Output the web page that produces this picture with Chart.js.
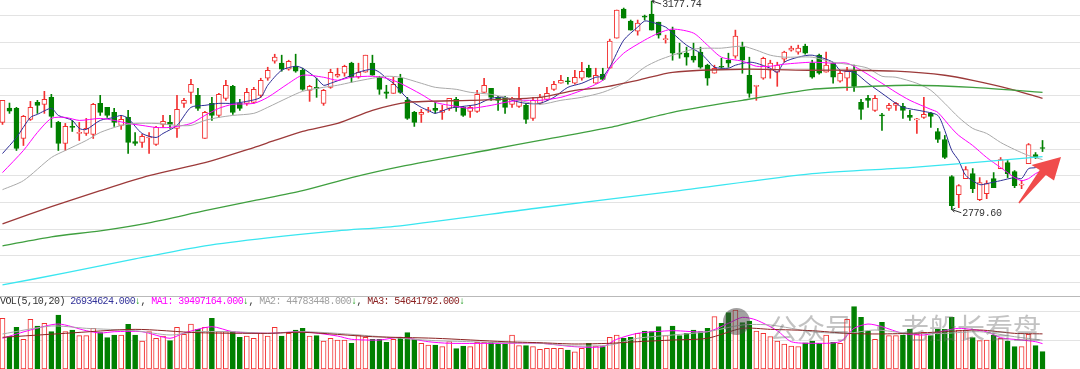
<!DOCTYPE html>
<html>
<head>
<meta charset="utf-8">
<script src="https://cdn.jsdelivr.net/npm/chart.js@4"></script>
<style>
  body { margin: 0; background: #fff; }
  #wrap { position: relative; width: 1080px; height: 369px; overflow: hidden; background: #fff; }
  canvas { position: absolute; left: 0; }
  #price { top: 0; }
  #vol { top: 296px; }
  #sep { position: absolute; left: 0; top: 296px; width: 1080px; height: 1px; background: #b9b9b9; }
  #volHead { position: absolute; left: 0; top: 296px; height: 12px; line-height: 12px; font: 10px "Liberation Mono", monospace; letter-spacing: -0.6px; white-space: pre; color: #333; }
  #logo { position: absolute; left: 723px; top: 308px; width: 27px; height: 27px; border-radius: 50%; background: rgba(70,70,70,0.5); }
  .mark { position: absolute; top: 307px; line-height: 28px; font: 28px "Noto Sans CJK SC", sans-serif; color: rgba(110,110,110,0.42); white-space: nowrap; }
</style>
</head>
<body>
<div id="wrap">
  <canvas id="price" width="1080" height="291"></canvas>
  <canvas id="vol" width="1080" height="73"></canvas>
  <div id="sep"></div>
  <div id="volHead"></div>
  <div id="logo"></div>
  <div class="mark" style="left:769px">公众号</div>
  <div class="mark" style="left:866px">·</div>
  <div class="mark" style="left:901px">老船长看盘</div>
</div>
<script>
// daily K-line, 150 sessions (prices)
const opens = [
  2946.2, 2973.6, 2973.0, 2915.5, 2951.9, 2984.4, 2980.6, 2994.0, 2946.2, 2906.0,
  2938.5, 2925.1, 2925.1, 2923.2, 2982.5, 2974.9, 2965.3, 2940.4, 2955.7, 2909.8,
  2907.9, 2916.5, 2904.0, 2942.3, 2946.2, 2934.7, 2982.5, 3003.6, 2997.8, 2915.5,
  2982.5, 2959.5, 2992.1, 3015.0, 2982.5, 2982.5, 2984.4, 2997.8, 3030.4, 3062.9,
  3059.1, 3047.6, 3053.3, 3045.7, 3007.4, 3013.1, 2982.5, 3013.1, 3034.2, 3040.0,
  3059.1, 3032.3, 3041.8, 3059.1, 3032.3, 3004.5, 3001.6, 3030.4, 2988.3, 2965.3,
  2961.5, 2968.2, 2973.0, 2965.3, 2973.0, 2990.2, 2974.9, 2967.2, 2967.2, 3003.6,
  3011.2, 2994.0, 2994.0, 2980.6, 2976.8, 2978.7, 2953.8, 2982.5, 2990.2, 3009.3,
  3020.8, 3025.6, 3020.8, 3030.4, 3049.5, 3020.8, 3038.0, 3049.5, 3106.9, 3162.4,
  3139.5, 3120.3, 3149.0, 3152.9, 3137.5, 3104.1, 3122.2, 3078.2, 3078.2, 3072.5,
  3080.1, 3055.3, 3040.0, 3053.3, 3064.8, 3072.5, 3089.7, 3036.1, 3015.0, 3030.4,
  3045.7, 3041.8, 3066.7, 3084.0, 3080.1, 3091.6, 3059.1, 3074.4, 3041.8, 3059.1,
  3024.6, 3030.4, 3045.7, 2984.4, 2992.1, 2969.1, 2960.5, 2973.0, 2978.7, 2976.8,
  2959.5, 2950.9, 2955.7, 2963.4, 2928.9, 2913.6, 2842.8, 2808.3, 2839.0, 2848.5,
  2798.8, 2810.3, 2839.0, 2858.1, 2869.6, 2852.4, 2826.5, 2867.7, 2884.9, 2898.3
];
const closes = [
  2988.3, 2967.8, 2896.4, 2957.6, 2974.9, 2978.7, 2990.2, 2957.6, 2906.0, 2938.5,
  2936.6, 2926.0, 2934.7, 2980.6, 2965.3, 2959.5, 2946.2, 2951.9, 2907.9, 2906.0,
  2919.4, 2917.4, 2936.6, 2948.1, 2942.3, 2971.0, 2988.3, 3018.9, 2973.0, 2965.3,
  2959.5, 2999.7, 3017.0, 2965.3, 2973.0, 3003.6, 3009.3, 3026.5, 3045.7, 3070.6,
  3047.6, 3062.9, 3043.8, 3009.3, 3015.0, 3011.2, 3007.4, 3041.8, 3038.0, 3053.3,
  3032.3, 3041.8, 3074.4, 3036.1, 3009.3, 3001.6, 3018.9, 3003.6, 2953.8, 2946.2,
  2965.3, 2969.1, 2969.1, 2969.1, 2992.1, 2974.9, 2959.5, 2974.9, 2999.7, 3017.0,
  2994.0, 2988.3, 2974.9, 2992.1, 2990.2, 2951.9, 2988.3, 2994.0, 3001.6, 3018.9,
  3026.5, 3023.7, 3032.3, 3043.8, 3032.3, 3036.1, 3028.4, 3101.2, 3160.5, 3145.2,
  3122.2, 3135.6, 3147.1, 3122.2, 3112.6, 3105.0, 3078.2, 3076.3, 3070.6, 3064.8,
  3051.4, 3030.4, 3049.5, 3051.4, 3059.1, 3110.7, 3064.8, 3001.6, 3017.0, 3068.6,
  3059.1, 3055.3, 3080.1, 3087.8, 3087.8, 3078.2, 3032.3, 3039.9, 3055.3, 3032.3,
  3039.9, 3043.8, 3015.0, 2971.0, 2988.3, 2992.1, 2958.6, 2978.7, 2982.5, 2969.1,
  2955.7, 2951.9, 2961.5, 2957.6, 2913.6, 2879.2, 2787.3, 2825.6, 2856.2, 2819.8,
  2831.3, 2829.4, 2821.7, 2875.3, 2848.5, 2825.6, 2827.5, 2904.0, 2879.2, 2896.4
];
const highs = [
  2988.3, 2983.1, 2974.9, 2959.5, 2986.3, 2988.3, 3005.5, 2999.7, 2948.1, 2944.2,
  2950.0, 2946.2, 2953.8, 2982.5, 2997.8, 2974.9, 2973.0, 2959.5, 2969.1, 2927.0,
  2923.2, 2927.0, 2938.5, 2959.5, 2959.5, 2997.8, 2992.1, 3028.4, 3011.2, 2967.2,
  2994.0, 3001.6, 3026.5, 3017.0, 2990.2, 3011.2, 3013.1, 3030.4, 3051.4, 3076.2,
  3074.4, 3064.8, 3076.3, 3049.5, 3017.0, 3030.4, 3009.3, 3047.6, 3049.5, 3055.3,
  3061.0, 3059.1, 3074.4, 3074.4, 3034.2, 3017.0, 3032.3, 3038.0, 2994.0, 2967.2,
  2971.0, 2974.9, 2984.4, 2978.7, 2992.1, 2994.0, 2976.8, 2978.7, 3007.4, 3030.4,
  3011.2, 2995.9, 2995.9, 2994.0, 3013.1, 2982.5, 2994.0, 2999.7, 3013.1, 3024.6,
  3036.1, 3032.3, 3045.7, 3061.0, 3055.3, 3049.5, 3049.5, 3105.0, 3160.5, 3164.3,
  3141.4, 3141.4, 3150.9, 3177.74, 3137.5, 3112.6, 3128.0, 3097.4, 3089.7, 3097.4,
  3089.7, 3057.2, 3055.3, 3068.6, 3078.2, 3122.2, 3099.3, 3070.6, 3017.0, 3070.6,
  3064.8, 3061.0, 3082.0, 3091.6, 3093.5, 3095.4, 3064.8, 3076.3, 3080.1, 3061.0,
  3045.7, 3051.4, 3055.3, 2990.2, 2997.8, 2997.8, 2963.4, 2982.5, 2984.4, 2982.5,
  2969.1, 2953.8, 2994.0, 2965.3, 2934.7, 2921.3, 2844.7, 2827.5, 2861.9, 2858.1,
  2840.9, 2835.1, 2850.5, 2879.2, 2873.4, 2854.3, 2835.1, 2905.9, 2888.7, 2911.7
];
const lows = [
  2942.3, 2963.4, 2892.6, 2902.1, 2950.0, 2963.4, 2963.4, 2936.6, 2892.6, 2892.6,
  2928.9, 2911.7, 2921.3, 2915.5, 2959.5, 2955.7, 2938.5, 2932.7, 2886.8, 2902.1,
  2898.3, 2886.8, 2902.1, 2936.6, 2934.7, 2917.4, 2974.9, 2982.5, 2969.1, 2915.5,
  2950.0, 2955.7, 2988.3, 2961.4, 2969.1, 2978.7, 2982.5, 2994.0, 3026.5, 3059.1,
  3043.8, 3045.7, 3041.8, 3007.4, 2986.3, 2994.0, 2978.7, 3011.2, 3032.3, 3034.2,
  3022.7, 3030.4, 3041.8, 3036.1, 2999.7, 2992.1, 3001.6, 3001.6, 2951.9, 2938.5,
  2946.2, 2965.3, 2963.4, 2951.9, 2969.1, 2967.2, 2957.6, 2955.7, 2965.3, 3003.6,
  2988.3, 2969.1, 2963.4, 2974.9, 2974.9, 2944.2, 2950.0, 2980.6, 2988.3, 3007.4,
  3020.8, 3018.9, 3018.9, 3026.5, 3032.3, 3020.8, 3026.5, 3049.5, 3106.9, 3145.2,
  3122.2, 3112.6, 3141.4, 3122.2, 3106.9, 3097.4, 3064.8, 3068.6, 3055.3, 3061.0,
  3049.5, 3017.0, 3040.0, 3049.5, 3051.4, 3068.6, 3040.0, 2994.0, 2988.3, 3028.4,
  3030.4, 3015.0, 3061.0, 3082.0, 3076.3, 3076.3, 3030.4, 3038.0, 3041.8, 3020.8,
  3022.7, 3007.4, 3005.5, 2951.9, 2974.9, 2967.2, 2930.8, 2969.1, 2969.1, 2953.8,
  2950.0, 2925.1, 2953.8, 2936.6, 2907.9, 2877.2, 2779.6, 2783.5, 2839.0, 2812.2,
  2796.9, 2800.7, 2821.7, 2858.1, 2840.9, 2821.7, 2819.8, 2867.7, 2877.2, 2890.6
];
// volume in millions of shares
const volumes = [
  78.8, 50.3, 64.8, 46.2, 77.3, 66.9, 71.1, 58.1, 84.0, 58.1,
  60.7, 51.9, 51.9, 63.3, 56.5, 48.8, 52.9, 52.9, 69.5, 52.9,
  43.6, 58.1, 47.7, 51.3, 44.1, 64.8, 53.9, 70.0, 61.7, 64.8,
  78.8, 58.1, 58.1, 58.1, 49.3, 51.3, 47.7, 55.5, 51.3, 64.8,
  51.3, 55.5, 60.7, 63.3, 51.3, 51.9, 43.6, 47.7, 45.1, 45.1,
  40.0, 52.9, 49.3, 46.2, 46.2, 41.5, 46.2, 49.3, 56.5, 46.7,
  40.0, 37.3, 37.3, 34.7, 42.5, 31.6, 35.8, 34.7, 41.5, 41.5,
  41.5, 38.4, 38.4, 52.9, 36.3, 36.3, 34.7, 30.6, 32.2, 32.2,
  32.2, 29.6, 26.9, 32.2, 40.0, 35.8, 34.7, 49.3, 52.9, 47.7,
  49.3, 55.5, 59.1, 58.1, 65.9, 51.9, 66.9, 51.9, 55.5, 60.7,
  58.1, 63.3, 81.4, 71.1, 87.7, 91.8, 72.1, 74.7, 59.1, 55.5,
  50.3, 43.6, 38.9, 35.8, 34.7, 40.9, 43.6, 40.0, 52.9, 41.5,
  40.0, 77.3, 97.0, 80.4, 59.1, 46.2, 72.6, 51.9, 51.9, 52.9,
  62.2, 53.9, 57.1, 51.9, 61.7, 61.7, 80.4, 60.7, 60.7, 48.8,
  44.1, 45.0, 52.9, 47.7, 43.6, 34.7, 34.7, 53.9, 36.3, 26.934624
];

// moving averages: [session index, value]
const ma5 = [[0,2886.8],[2,2917.4],[4,2955.7],[5,2961.5],[7,2973.0],[8,2959.5],[10,2950.0],[11,2934.7],[12,2932.7],[14,2950.0],[16,2955.7],[17,2959.5],[18,2953.8],[20,2925.1],[22,2917.4],[23,2925.1],[25,2940.4],[27,2974.9],[29,2978.7],[31,2982.5],[33,2982.5],[35,2986.3],[37,2994.0],[38,3017.0],[40,3045.7],[42,3053.3],[43,3049.5],[45,3030.4],[46,3017.0],[47,3020.8],[49,3030.4],[51,3041.8],[53,3047.6],[54,3041.8],[55,3030.4],[56,3020.8],[58,2992.1],[60,2974.9],[61,2969.1],[62,2963.4],[64,2973.0],[66,2976.8],[68,2980.6],[70,2992.1],[72,2994.0],[73,2988.3],[75,2982.5],[77,2982.5],[79,2994.0],[81,3013.1],[83,3020.8],[85,3032.3],[86,3034.2],[87,3051.4],[89,3103.1],[91,3128.0],[92,3139.5],[93,3137.5],[95,3128.0],[96,3116.5],[98,3093.5],[100,3078.2],[101,3064.8],[102,3051.4],[104,3049.5],[105,3055.3],[107,3061.0],[108,3059.1],[110,3049.5],[111,3041.8],[112,3061.0],[114,3070.6],[116,3074.4],[119,3061.0],[120,3045.7],[122,3041.8],[124,3020.8],[126,3001.6],[128,2982.5],[129,2974.9],[132,2967.2],[134,2959.5],[135,2930.8],[136,2892.6],[137,2873.4],[138,2845.0],[140,2827.5],[141,2829.4],[143,2835.1],[145,2840.9],[146,2839.0],[147,2858.1],[148,2860.0],[149,2867.7]];
const ma10 = [[0,2850.4],[3,2892.6],[5,2927.0],[7,2953.8],[9,2955.7],[11,2950.0],[14,2953.8],[16,2950.0],[18,2944.2],[20,2940.4],[22,2936.6],[24,2936.6],[27,2944.2],[29,2959.5],[31,2973.0],[33,2980.6],[36,2982.5],[38,2994.0],[41,3020.8],[43,3036.1],[46,3032.3],[48,3026.5],[50,3032.3],[53,3034.2],[55,3030.4],[57,3020.8],[60,2999.7],[62,2984.4],[65,2976.8],[67,2973.0],[70,2978.7],[72,2984.4],[74,2988.3],[77,2988.3],[80,2994.0],[83,3007.4],[86,3026.5],[87,3049.5],[89,3078.2],[92,3103.1],[94,3116.5],[96,3124.2],[99,3116.5],[101,3093.5],[103,3070.6],[106,3062.9],[108,3053.3],[110,3053.3],[112,3057.2],[116,3061.0],[119,3059.1],[121,3059.1],[123,3045.7],[126,3020.8],[128,3003.6],[130,2988.3],[133,2971.0],[134,2965.3],[136,2934.7],[137,2921.3],[139,2902.1],[141,2879.2],[143,2860.0],[144,2850.4],[145,2840.9],[146,2835.1],[147,2839.0],[148,2848.5],[149,2854.3]];
const ma20 = [[0,2817.9],[3,2835.1],[7,2879.2],[9,2892.6],[12,2911.7],[14,2927.0],[17,2940.4],[19,2944.2],[22,2944.2],[25,2940.4],[27,2940.4],[29,2950.0],[31,2955.7],[33,2959.5],[36,2963.4],[38,2974.9],[41,2994.0],[43,3005.5],[46,3013.1],[48,3017.0],[50,3022.7],[53,3030.4],[55,3034.2],[57,3032.3],[60,3020.8],[62,3013.1],[65,3009.3],[67,3003.6],[70,2999.7],[72,2994.0],[74,2988.3],[77,2980.6],[80,2988.3],[83,2994.0],[86,3003.6],[89,3020.8],[92,3051.4],[94,3064.8],[96,3074.4],[99,3085.9],[101,3087.8],[103,3087.8],[106,3091.6],[108,3084.0],[110,3074.4],[112,3070.6],[116,3070.6],[119,3061.0],[122,3055.3],[124,3049.5],[126,3034.2],[128,3032.3],[131,3020.8],[133,3007.4],[135,2982.5],[137,2955.7],[139,2934.7],[141,2925.1],[143,2907.9],[145,2894.5],[147,2883.0],[149,2875.3]];
const ma60 = [[0,2752.8],[7,2785.4],[14,2816.0],[21,2844.7],[29,2869.6],[36,2898.3],[39,2911.7],[43,2928.9],[48,2944.2],[53,2969.1],[58,2984.4],[67,2988.3],[77,2994.0],[82,3007.4],[86,3013.1],[91,3026.5],[96,3041.8],[106,3047.6],[116,3045.7],[122,3045.7],[128,3043.8],[135,3036.1],[139,3026.5],[144,3011.2],[149,2992.1]];
const ma120 = [[0,2710.7],[7,2728.0],[14,2739.4],[21,2754.7],[29,2777.7],[36,2796.9],[43,2816.0],[50,2840.9],[57,2861.9],[70,2894.5],[77,2911.7],[87,2936.6],[96,2965.3],[106,2988.3],[116,3009.3],[121,3013.1],[130,3017.0],[139,3013.1],[149,3003.6]];
const ma250 = [[0,2636.1],[9,2659.0],[19,2685.8],[29,2710.7],[38,2726.0],[48,2739.4],[57,2749.0],[77,2783.4],[97,2816.0],[116,2848.5],[130,2860.0],[139,2869.6],[149,2881.1]];

const volMa5 = [[0,47.8],[4,60.7],[8,70.0],[12,59.6],[14,56.0],[16,58.0],[20,58.0],[24,47.8],[26,56.0],[30,65.8],[33,58.0],[38,55.5],[43,58.0],[48,51.3],[50,46.2],[54,45.1],[57,49.3],[61,42.5],[64,40.0],[72,40.0],[77,40.0],[82,34.7],[86,34.7],[88,46.2],[91,55.5],[96,59.6],[101,58.0],[104,71.1],[106,80.4],[108,76.2],[111,59.6],[113,42.5],[116,40.0],[120,42.5],[122,63.3],[124,70.0],[126,65.8],[129,55.5],[132,52.9],[135,59.6],[137,63.3],[141,58.0],[143,48.7],[146,45.1],[148,42.5],[149,39.497164]];
const volMa10 = [[0,54.5],[7,66.9],[12,63.3],[19,59.6],[24,52.9],[28,58.0],[33,58.0],[38,55.5],[43,58.0],[48,55.5],[53,51.3],[57,47.8],[62,44.1],[67,42.5],[72,40.9],[77,40.0],[82,35.8],[87,37.3],[91,47.8],[96,52.9],[101,58.0],[106,68.5],[110,68.5],[116,58.0],[121,55.5],[125,60.7],[130,55.5],[135,55.5],[140,58.0],[145,50.3],[149,44.783448]];
const volMa20 = [[0,49.3],[9,55.5],[19,61.7],[28,56.5],[38,55.5],[43,57.1],[53,50.3],[62,47.8],[72,42.5],[77,40.9],[82,38.9],[87,40.0],[91,42.5],[96,45.1],[101,47.8],[106,63.3],[110,61.7],[116,59.6],[121,55.5],[125,54.5],[130,55.5],[135,58.0],[140,60.7],[145,55.5],[149,54.641792]];

// horizontal grid levels
const gridLevels = [3150.9, 3100.0, 3049.1, 2998.2, 2947.3, 2896.4, 2845.5, 2794.5, 2743.6, 2692.7, 2641.8];
const volGridLevels = [45.1, 90.2];

// header of the volume pane
const volHeader = [
  ['VOL(5,10,20) ', '#333'],
  ['26934624.000', '#33339a'], ['↓', '#1a9a1a'], [', ', '#333'],
  ['MA1: 39497164.000', '#ff00ff'], ['↓', '#1a9a1a'], [', ', '#333'],
  ['MA2: 44783448.000', '#a0a0a0'], ['↓', '#1a9a1a'], [', ', '#333'],
  ['MA3: 54641792.000', '#8b2222'], ['↓', '#1a9a1a']
];

const RED = '#f23030';
const GREEN = '#008000';
const X_MIN = -0.357, X_MAX = 154.37;
const up = closes.map((c, i) => c >= opens[i]);

document.getElementById('volHead').innerHTML = volHeader
  .map(p => `<span style="color:${p[1]}">${p[0]}</span>`).join('');

function lineSet(points, color, width) {
  return {
    type: 'line',
    data: points.map(p => ({ x: p[0], y: p[1] })),
    borderColor: color,
    borderWidth: width,
    pointRadius: 0,
    tension: 0.25,
    order: 0
  };
}

function gridPlugin(levels) {
  return {
    id: 'hgrid',
    beforeDatasetsDraw(chart) {
      const { ctx, chartArea, scales } = chart;
      ctx.save();
      ctx.strokeStyle = '#e3e3e3';
      ctx.lineWidth = 1;
      levels.forEach(v => {
        const py = Math.round(scales.y.getPixelForValue(v)) + 0.5;
        ctx.beginPath();
        ctx.moveTo(0, py);
        ctx.lineTo(chartArea.right, py);
        ctx.stroke();
      });
      ctx.restore();
    }
  };
}

// high / low labels and the red arrow
const markPlugin = {
  id: 'marks',
  afterDatasetsDraw(chart) {
    const { ctx, scales } = chart;
    ctx.save();
    ctx.strokeStyle = '#333';
    ctx.fillStyle = '#333';
    ctx.lineWidth = 1;
    ctx.font = '10px "Liberation Mono", monospace';
    if ('letterSpacing' in ctx) ctx.letterSpacing = '-0.4px';
    ctx.textBaseline = 'middle';
    const iHigh = highs.indexOf(Math.max(...highs));
    const iLow = lows.indexOf(Math.min(...lows));
    [[iHigh, highs[iHigh]], [iLow, lows[iLow]]].forEach(([i, v]) => {
      const x = scales.x.getPixelForValue(i) + 0.5;
      const y = scales.y.getPixelForValue(v);
      ctx.beginPath();
      ctx.moveTo(x + 9, y + 3);
      ctx.lineTo(x, y);
      ctx.moveTo(x + 3, y - 1.5);
      ctx.lineTo(x, y);
      ctx.lineTo(x + 2, y + 2.5);
      ctx.stroke();
      ctx.fillText(v.toFixed(2), x + 10, y + 3.5);
    });
    // arrow
    ctx.fillStyle = '#f04c4c';
    ctx.beginPath();
    ctx.moveTo(1018.4, 202.5);
    ctx.lineTo(1039.7, 170);
    ctx.lineTo(1031.5, 165);
    ctx.lineTo(1061, 157);
    ctx.lineTo(1054, 180.5);
    ctx.lineTo(1045.9, 175);
    ctx.lineTo(1019.6, 203.5);
    ctx.closePath();
    ctx.fill();
    ctx.restore();
  }
};

const baseOptions = (yMin, yMax) => ({
  responsive: false,
  animation: false,
  devicePixelRatio: 1,
  events: [],
  layout: { padding: 0 },
  plugins: { legend: { display: false }, tooltip: { enabled: false } },
  scales: {
    x: { type: 'linear', display: false, min: X_MIN, max: X_MAX, offset: false },
    y: { display: false, min: yMin, max: yMax }
  }
});

new Chart(document.getElementById('price'), {
  type: 'bar',
  data: {
    datasets: [
      {
        data: lows.map((l, i) => ({ x: i, y: [l, highs[i]] })),
        backgroundColor: up.map(u => u ? RED : GREEN),
        barThickness: 1,
        grouped: false,
        order: 2
      },
      {
        data: opens.map((o, i) => ({ x: i, y: [o, closes[i]] })),
        backgroundColor: up.map(u => u ? '#ffffff' : GREEN),
        borderColor: up.map(u => u ? RED : GREEN),
        borderWidth: 1,
        borderSkipped: false,
        barThickness: 5,
        minBarLength: 1,
        grouped: false,
        order: 1
      },
      lineSet(ma250, '#3ae6f0', 1.3),
      lineSet(ma120, '#3f9f3f', 1.3),
      lineSet(ma60, '#9c3a3a', 1.3),
      lineSet(ma20, '#a9a9a9', 1),
      lineSet(ma10, '#ff00ff', 1),
      lineSet(ma5, '#2e2e96', 1)
    ]
  },
  options: baseOptions(2624.6, 3179.65),
  plugins: [gridPlugin(gridLevels), markPlugin]
});

new Chart(document.getElementById('vol'), {
  type: 'bar',
  data: {
    datasets: [
      {
        data: volumes.map((v, i) => ({ x: i, y: v })),
        backgroundColor: up.map(u => u ? '#ffffff' : GREEN),
        borderColor: up.map(u => u ? RED : GREEN),
        borderWidth: 1,
        borderSkipped: false,
        barThickness: 5,
        order: 1
      },
      lineSet(volMa20, '#8b2222', 1),
      lineSet(volMa10, '#a9a9a9', 1),
      lineSet(volMa5, '#ff00ff', 1)
    ]
  },
  options: baseOptions(0, 113.6),
  plugins: [gridPlugin(volGridLevels)]
});
</script>
</body>
</html>
